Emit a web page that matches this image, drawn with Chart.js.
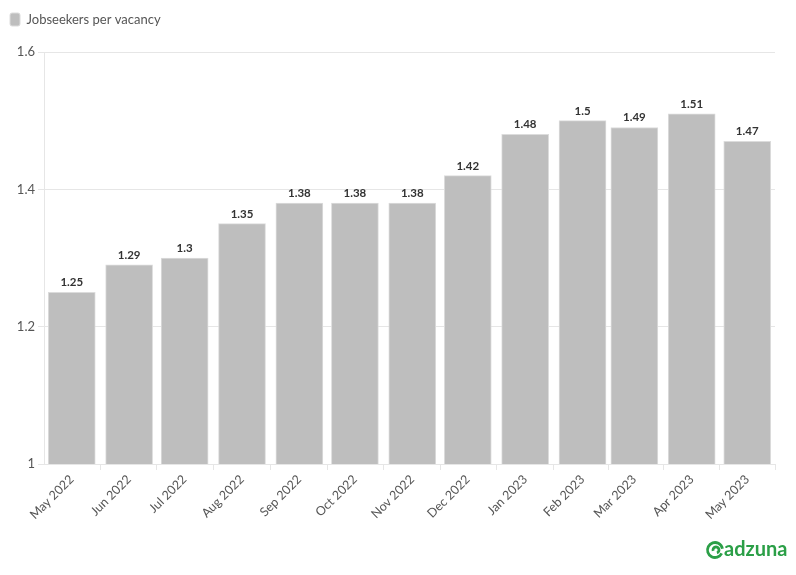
<!DOCTYPE html>
<html>
<head>
<meta charset="utf-8">
<script src="https://cdn.jsdelivr.net/npm/chart.js@4"></script>
<style>
html,body{margin:0;padding:0;background:#fff;}
#wrap{position:relative;width:796px;height:575px;}
</style>
</head>
<body>
<div id="wrap"><canvas id="c" width="796" height="575"></canvas></div>
<script>
const monthLabels = ['May 2022','Jun 2022','Jul 2022','Aug 2022','Sep 2022','Oct 2022','Nov 2022','Dec 2022','Jan 2023','Feb 2023','Mar 2023','Apr 2023','May 2023'];
const monthDates = ['2022-05-01','2022-06-01','2022-07-01','2022-08-01','2022-09-01','2022-10-01','2022-11-01','2022-12-01','2023-01-01','2023-02-01','2023-03-01','2023-04-01','2023-05-01'];
const jobseekersPerVacancy = [1.25,1.29,1.3,1.35,1.38,1.38,1.38,1.42,1.48,1.5,1.49,1.51,1.47];
const yTicks = [1, 1.2, 1.4, 1.6];

const DAY = 86400000;
const start = Date.parse(monthDates[0]);
const dayPos = monthDates.map(d => Math.round((Date.parse(d) - start) / DAY));
const points = dayPos.map((x, i) => ({x: x, y: jobseekersPerVacancy[i]}));

const FONT = 'Lato, "Source Sans Pro", sans-serif';

const legendSpace = {
  id: 'legendSpace',
  beforeInit(chart) {
    const lg = chart.legend;
    const origFit = lg.fit;
    lg.fit = function () {
      origFit.call(this);
      this.height += 16;
    };
  }
};

const valueLabels = {
  id: 'valueLabels',
  afterDatasetsDraw(chart) {
    const ctx = chart.ctx;
    const meta = chart.getDatasetMeta(0);
    ctx.save();
    ctx.font = 'bold 11.5px ' + FONT;
    ctx.fillStyle = '#333';
    ctx.textAlign = 'center';
    ctx.textBaseline = 'bottom';
    meta.data.forEach((el, i) => {
      ctx.fillText(String(jobseekersPerVacancy[i]), el.x, el.y - 4);
    });
    ctx.restore();
  }
};

const logo = {
  id: 'logo',
  afterDraw(chart) {
    const ctx = chart.ctx;
    ctx.save();
    const green = '#2b9f47';
    ctx.strokeStyle = green;
    ctx.lineWidth = 2.8;
    ctx.beginPath();
    ctx.arc(715, 550, 7.5, Math.PI * 0.15, Math.PI * 1.95);
    ctx.stroke();
    ctx.beginPath();
    ctx.arc(716, 550, 3, Math.PI * 0.9, Math.PI * 2.4);
    ctx.stroke();
    ctx.fillStyle = green;
    ctx.font = 'bold 20px ' + FONT;
    ctx.textAlign = 'left';
    ctx.textBaseline = 'middle';
    ctx.fillText('adzuna', 724, 550);
    ctx.restore();
  }
};

new Chart(document.getElementById('c'), {
  type: 'bar',
  data: {
    datasets: [{
      label: 'Jobseekers per vacancy',
      data: points,
      backgroundColor: '#bebebe',
      borderColor: '#dcdcdc',
      borderWidth: 1,
      barThickness: 47
    }]
  },
  options: {
    responsive: false,
    animation: false,
    layout: {padding: {left: 0, right: 21, top: 3, bottom: 33}},
    plugins: {
      legend: {
        position: 'top',
        align: 'start',
        labels: {
          font: {family: FONT, size: 13},
          color: '#555',
          boxWidth: 10,
          boxHeight: 13,
          useBorderRadius: true,
          borderRadius: 2,
          padding: 10
        }
      },
      tooltip: {enabled: false}
    },
    scales: {
      x: {
        type: 'linear',
        min: -15,
        max: 380,
        offset: false,
        afterBuildTicks: (scale) => { scale.ticks = dayPos.map(v => ({value: v})); },
        afterFit: (scale) => { scale.height = 78; },
        ticks: {
          autoSkip: false,
          maxRotation: 45,
          minRotation: 45,
          font: {family: FONT, size: 12.5},
          color: '#555',
          padding: 2,
          callback: (v, i) => monthLabels[i]
        },
        grid: {drawOnChartArea: false, drawTicks: true, tickLength: 6, color: '#e6e6e6'},
        border: {color: '#e6e6e6'}
      },
      y: {
        min: 1,
        max: 1.6,
        afterBuildTicks: (scale) => { scale.ticks = yTicks.map(v => ({value: v})); },
        afterFit: (scale) => { scale.width = 44; },
        ticks: {
          font: {family: FONT, size: 13},
          color: '#555',
          padding: 3,
          callback: (v) => String(v)
        },
        grid: {color: '#e6e6e6', tickLength: 6},
        border: {color: '#e6e6e6'}
      }
    }
  },
  plugins: [legendSpace, valueLabels, logo]
});
</script>
</body>
</html>
